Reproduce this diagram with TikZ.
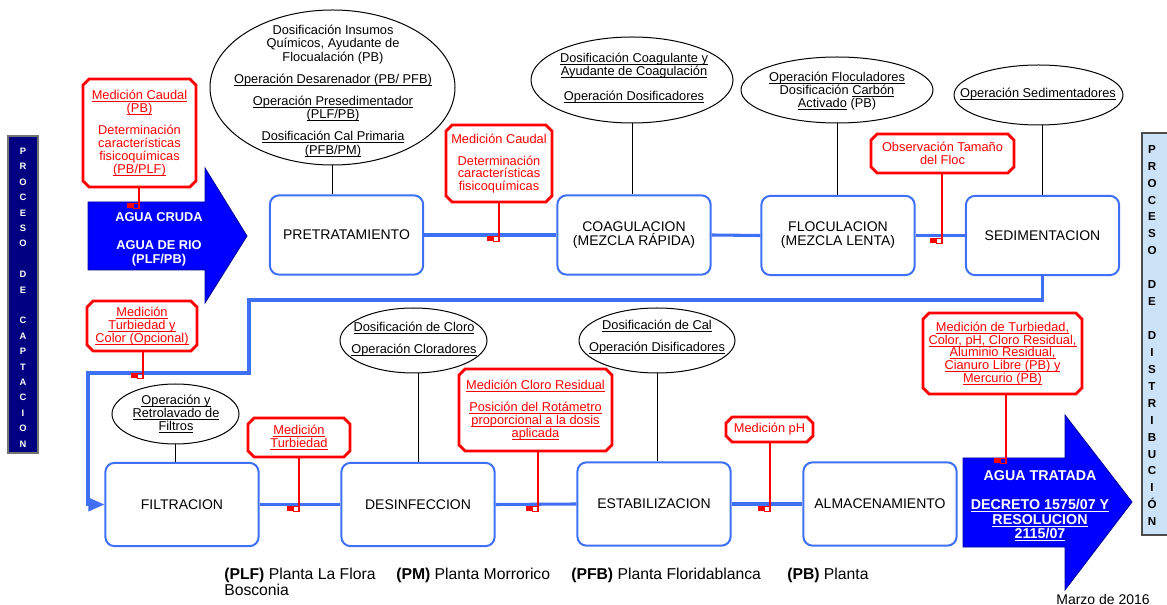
\documentclass[tikz,border=0pt]{standalone}
\usepackage{fontspec}
\setmainfont{Liberation Sans}
\usetikzlibrary{fit,shapes.misc,shapes.geometric,arrows.meta,calc}
\definecolor{bxblue}{HTML}{3F6FF5}
\definecolor{arrblue}{HTML}{0000FF}
\definecolor{navybar}{HTML}{000080}
\definecolor{lbluebar}{HTML}{CCE2F7}
\definecolor{mred}{HTML}{FF0000}
\newsavebox\ulbox
\newcommand\uln[1]{\leavevmode\sbox\ulbox{#1}\rlap{\rule[-1.7pt]{\wd\ulbox}{0.6pt}}\usebox\ulbox}
\newcommand\redmark[1]{%
  \fill[mred] ($(#1)+(-12,-5)$) rectangle ($(#1)+(-6,0)$);
  \draw[mred, line width=0.6pt] ($(#1)+(-6,-5)$) rectangle (#1);}
\tikzset{
  procbox/.style={draw=bxblue, line width=1.5pt, rounded corners=7pt, fill=white, inner sep=0pt, align=center, font=\fontsize{10.5}{10.5}\selectfont, minimum width=115pt},
  toprow/.style={procbox, minimum height=59.5pt},
  botrow/.style={procbox, minimum height=62.5pt},
  ellnode/.style={draw=black, line width=0.75pt, ellipse, fill=white, inner sep=0pt},
  elltext/.style={align=center, inner sep=0pt, font=\fontsize{9.6}{9.8}\selectfont},
  redbox/.style={draw=mred, line width=2.2pt, chamfered rectangle, chamfered rectangle xsep=2.3pt, chamfered rectangle ysep=2.3pt, fill=white, inner sep=0pt, text=mred, align=center, font=\fontsize{9.6}{9.6}\selectfont},
  flow/.style={draw=bxblue, line width=2.3pt},
  feed/.style={draw=black, line width=0.75pt},
  redline/.style={draw=mred, line width=1pt},
  bigarrow/.style={fill=arrblue, draw=arrblue!60!black, line width=0.6pt},
  arrtext/.style={text=white, align=center, inner sep=0pt},
  legend/.style={inner sep=0pt, font=\fontsize{11.8}{11.8}\selectfont},
}
\begin{document}
\begin{tikzpicture}[x=0.75pt,y=-0.75pt]
\useasboundingbox (0,0) rectangle (1167,605);

% side bars
\node[fit={(8,136) (38,453)}, inner sep=0pt, fill=navybar, draw=black!55, line width=0.8pt] (lbar) {};
\node[font=\bfseries\fontsize{7}{11.55}\selectfont, text=white, align=center, inner sep=0pt] (lbt) at (23,297.5)
  {P\\R\\O\\C\\E\\S\\O\\\mbox{}\\D\\E\\\mbox{}\\C\\A\\P\\T\\A\\C\\I\\O\\N};
\node[fit={(1142,133) (1172,535)}, inner sep=0pt, fill=lbluebar, draw=black!70, line width=0.8pt] (rbar) {};
\node[font=\bfseries\fontsize{8.7}{12.7}\selectfont, align=center, inner sep=0pt] (rbt) at (1152,335.5)
  {P\\R\\O\\C\\E\\S\\O\\\mbox{}\\D\\E\\\mbox{}\\D\\I\\S\\T\\R\\I\\B\\U\\C\\I\\Ó\\N};

% big arrows
\draw[bigarrow] (88,202) -- (205,202) -- (205,168) -- (247,236) -- (205,303) -- (205,270) -- (88,270) -- cycle;
\node[arrtext, font=\bfseries\fontsize{9.6}{10.5}\selectfont] (cruda) at (159,239.5)
  {AGUA CRUDA\\[11pt]AGUA DE RIO\\(PLF/PB)};
\draw[bigarrow] (963,458) -- (1065,458) -- (1065,415) -- (1132,502) -- (1065,590) -- (1065,547) -- (963,547) -- cycle;
\node[arrtext, font=\bfseries\fontsize{10.7}{10.9}\selectfont] (tratada) at (1040,506)
  {AGUA TRATADA\\[10.9pt]\uln{DECRETO 1575/07 Y}\\\uln{RESOLUCION}\\\uln{2115/07}};

% process boxes
\node[toprow] (pre) at (346.5,235) {PRETRATAMIENTO};
\node[toprow] (coag) at (634,235) {COAGULACION\\(MEZCLA RÁPIDA)};
\node[toprow] (floc) at (838,235.5) {FLOCULACION\\(MEZCLA LENTA)};
\node[toprow] (sed) at (1042.5,235.5) {SEDIMENTACION};
\node[botrow] (filt) at (182,504.5) {FILTRACION};
\node[botrow] (desi) at (418,504.5) {DESINFECCION};
\node[botrow] (esta) at (654,504) {ESTABILIZACION};
\node[botrow] (alma) at (880,504) {ALMACENAMIENTO};

% ellipses
\node[ellnode, minimum width=183.75pt, minimum height=116.25pt] (e1) at (332.5,87.5) {};
\node[elltext, font=\fontsize{9.6}{10.1}\selectfont] (e1t) at (333,91)
  {Dosificación Insumos\\Químicos, Ayudante de\\Flocualación (PB)\\[6.4pt]\uln{Operación Desarenador (PB/ PFB)}\\[6.4pt]\uln{Operación Presedimentador}\\\uln{(PLF/PB)}\\[6.4pt]\uln{Dosificación Cal Primaria}\\\uln{(PFB/PM)}};
\node[ellnode, minimum width=151.5pt, minimum height=64.5pt] (e2) at (632,80) {};
\node[elltext, font=\fontsize{9.6}{9.7}\selectfont] (e2t) at (634,78)
  {\uln{Dosificación Coagulante y}\\\uln{Ayudante de Coagulación}\\[9pt]\uln{Operación Dosificadores}};
\node[ellnode, minimum width=144pt, minimum height=49.5pt] (e3) at (837,90) {};
\node[elltext] (e3t) at (837,91)
  {\uln{Operación Floculadores}\\Dosificación \uln{Carbón}\\\uln{Activado} (PB)};
\node[ellnode, minimum width=126.75pt, minimum height=45pt] (e4) at (1038.5,95) {};
\node[elltext] (e4t) at (1038,94) {\uln{Operación Sedimentadores}};
\node[ellnode, minimum width=95.25pt, minimum height=45pt] (e5) at (175.5,414) {};
\node[elltext] (e5t) at (176,414) {\uln{Operación y}\\\uln{Retrolavado de}\\\uln{Filtros}};
\node[ellnode, minimum width=110.25pt, minimum height=48.75pt] (e6) at (413.5,340.5) {};
\node[elltext] (e6t) at (414,339) {\uln{Dosificación de Cloro}\\[6.8pt]\uln{Operación Cloradores}};
\node[ellnode, minimum width=117pt, minimum height=48.75pt] (e7) at (657,340.5) {};
\node[elltext] (e7t) at (657,337) {\uln{Dosificación de Cal}\\[6.8pt]\uln{Operación Disificadores}};

% red boxes
\node[redbox, minimum width=84.75pt, minimum height=81pt] (r1) at (139.5,133)
  {\uln{Medición Caudal}\\\uln{(PB)}\\[7pt]Determinación\\características\\fisicoquímicas\\\uln{(PB/PLF)}};
\node[redbox, minimum width=79.5pt, minimum height=57.75pt] (r2) at (499,163.5)
  {Medición Caudal\\[7pt]Determinación\\características\\fisicoquímicas};
\node[redbox, minimum width=107.25pt, minimum height=29.25pt] (r3) at (942.5,153.5) {Observación Tamaño\\del Floc};
\node[redbox, minimum width=82.5pt, minimum height=37.5pt] (r4) at (142,326) {\uln{Medición}\\\uln{Turbiedad y}\\\uln{Color (Opcional)}};
\node[redbox, minimum width=76.5pt, minimum height=29.25pt] (r5) at (299,437.5) {\uln{Medición}\\\uln{Turbiedad}};
\node[redbox, minimum width=114.75pt, minimum height=61.5pt] (r6) at (535.5,410)
  {\uln{Medición Cloro Residual}\\[7pt]\uln{Posición del Rotámetro}\\\uln{proporcional a la dosis}\\\uln{aplicada}};
\node[redbox, minimum width=65.25pt, minimum height=18.75pt] (r7) at (769.5,429.5) {Medición pH};
\node[redbox, minimum width=119.25pt, minimum height=60.75pt] (r8) at (1002.5,353.5)
  {\uln{Medición de Turbiedad,}\\\uln{Color, pH, Cloro Residual,}\\\uln{Aluminio Residual,}\\\uln{Cianuro Libre (PB) y}\\\uln{Mercurio (PB)}};

% flow lines
\coordinate (t1) at (249,300);
\coordinate (t2) at (88,373);
\draw[flow] (pre.east) -- (coag.west);
\draw[flow] (coag.east) -- (floc.west);
\draw[flow] (floc.east) -- (sed.west);
\draw[flow, -{Triangle[length=12pt,width=10pt]}] (sed.south) |- (t1) |- (t2) |- (filt.west);
\draw[flow] (filt.east) -- (desi.west);
\draw[flow] (desi.east) -- (esta.west);
\draw[flow] (esta.east) -- (alma.west);

% ellipse feeders
\draw[feed] (e1.south) -- (e1.south |- pre.north);
\draw[feed] (e2.south) -- (e2.south |- coag.north);
\draw[feed] (e3.south) -- (e3.south |- floc.north);
\draw[feed] (sed.north |- e4.south) -- (sed.north);
\draw[feed] (e5.south) -- (e5.south |- filt.north);
\draw[feed] (desi.north |- e6.south) -- (desi.north);
\draw[feed] (e7.south) -- (e7.south |- esta.north);

% measurement points
\coordinate (m1) at (139,208);
\coordinate (m2) at (499,241);
\coordinate (m3) at (942,243);
\coordinate (m4) at (143,378);
\coordinate (m5) at (299,511);
\coordinate (m6) at (538,511);
\coordinate (m7) at (770,511);
\coordinate (m8) at (1006,463);
\foreach \r/\m in {r1/m1,r2/m2,r3/m3,r4/m4,r5/m5,r6/m6,r7/m7,r8/m8}{
  \draw[redline] (\r.south -| \m) -- (\m);
  \redmark{\m}
}

% legend
\node[legend, anchor=base west] (lg1) at (224,579) {\textbf{(PLF)} Planta La Flora};
\node[legend, anchor=base west] (lg2) at (396,579) {\textbf{(PM)} Planta Morrorico};
\node[legend, anchor=base west] (lg3) at (571,579) {\textbf{(PFB)} Planta Floridablanca};
\node[legend, anchor=base west] (lg4) at (787,579) {\textbf{(PB)} Planta};
\node[legend, anchor=base west] (lg5) at (224,595) {Bosconia};
\node[inner sep=0pt, font=\fontsize{10.5}{10.5}\selectfont, anchor=base east] (date) at (1150,604) {Marzo de 2016};
\end{tikzpicture}
\end{document}
